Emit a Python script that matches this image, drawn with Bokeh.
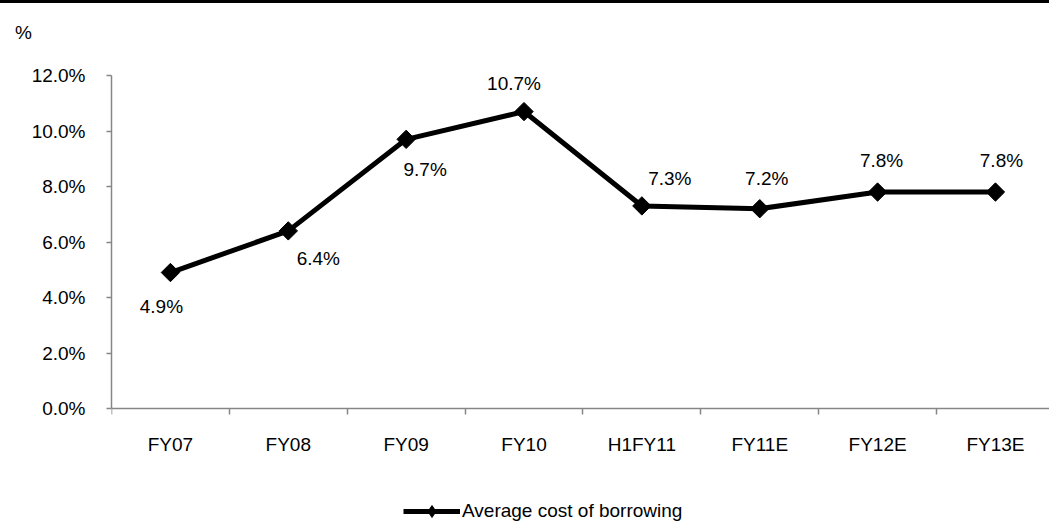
import numpy as np
from bokeh.plotting import figure
from bokeh.models import (Range1d, FixedTicker, ColumnDataSource, LabelSet,
                          Legend, LegendItem, PrintfTickFormatter, Div)
from bokeh.core.properties import value
from bokeh.layouts import column
from bokeh.embed import file_html
from bokeh.resources import INLINE

categories = ["FY07", "FY08", "FY09", "FY10", "H1FY11", "FY11E", "FY12E", "FY13E"]
cost = [4.9, 6.4, 9.7, 10.7, 7.3, 7.2, 7.8, 7.8]
labels = ["4.9%", "6.4%", "9.7%", "10.7%", "7.3%", "7.2%", "7.8%", "7.8%"]
y_ticks = [0, 2, 4, 6, 8, 10, 12]
series_name = "Average cost of borrowing"
unit_label = "%"

# label offsets (pixels) - styling
lab_dx = [-9, 30, 19, -10, 28, 7, 4, 6]
lab_dy = [-34, -28, -30, 28, 27, 30, 32, 32]

FONT = "Liberation Sans"
FS = "19px"
AXIS_GREY = "#868686"
PX_X = 117.86   # pixels per category
PX_Y = 27.75    # pixels per percentage point

xs = [i + 0.5 for i in range(len(categories))]
src = ColumnDataSource(dict(x=xs, y=cost, lab=labels, dx=lab_dx, dy=lab_dy))

TOP_H = 50
BOTTOM = 114
p = figure(width=1049, height=522 - TOP_H, output_backend="svg", toolbar_location=None,
           x_range=Range1d(0, 938 / PX_X), y_range=Range1d(-BOTTOM / PX_Y, 12),
           min_border_left=111, min_border_right=0, min_border_top=75 - TOP_H,
           min_border_bottom=0)
p.outline_line_color = None
p.grid.visible = False
p.background_fill_color = "white"
p.border_fill_color = "white"

# x axis (drawn at y = 0 inside the frame)
xa = p.xaxis[0]
xa.fixed_location = 0
xa.ticker = FixedTicker(ticks=xs, minor_ticks=list(range(len(categories) + 1)))
xa.major_label_overrides = {x: c for x, c in zip(xs, categories)}
xa.major_tick_line_color = None
xa.major_tick_out = 0
xa.major_tick_in = 0
xa.minor_tick_line_color = AXIS_GREY
xa.minor_tick_out = 6
xa.minor_tick_in = 0
xa.minor_tick_line_width = 1.5
xa.axis_line_color = AXIS_GREY
xa.axis_line_width = 1.5
xa.major_label_standoff = 19
xa.major_label_text_font = FONT
xa.major_label_text_font_size = FS
xa.major_label_text_color = "black"

# y axis
ya = p.yaxis[0]
ya.bounds = (0, 12)
ya.ticker = FixedTicker(ticks=y_ticks, minor_ticks=[])
ya.formatter = PrintfTickFormatter(format="%.1f%%")
ya.major_tick_line_color = AXIS_GREY
ya.major_tick_out = 5
ya.major_tick_in = 0
ya.major_tick_line_width = 1.5
ya.minor_tick_line_color = None
ya.axis_line_color = AXIS_GREY
ya.axis_line_width = 1.5
ya.major_label_standoff = 21
ya.major_label_text_font = FONT
ya.major_label_text_font_size = FS
ya.major_label_text_color = "black"

line_r = p.line("x", "y", source=src, line_color="black", line_width=5)
mark_r = p.scatter("x", "y", source=src, marker="square", angle=np.pi / 4, size=13,
                   fill_color="black", line_color="black")
# marker used only for the legend swatch (lies outside the visible range)
leg_mark = p.scatter(x=[-50], y=[-50], marker="diamond", size=13,
                     fill_color="black", line_color="black")

ls = LabelSet(x="x", y="y", text="lab", source=src, x_offset="dx", y_offset="dy",
              text_align="center", text_baseline="middle", text_font=value(FONT),
              text_font_size=value(FS), text_color="black")
p.add_layout(ls)

legend = Legend(items=[LegendItem(label=series_name, renderers=[line_r, leg_mark])],
                location=(292, -4), orientation="horizontal",
                border_line_color=None, background_fill_alpha=0, padding=0, margin=0,
                glyph_width=57, glyph_height=30, label_standoff=2,
                label_text_font=FONT, label_text_font_size=FS, label_text_color="black")
p.add_layout(legend, "center")

top = Div(text=f'<div style="position:relative;width:1049px;height:{TOP_H}px;">'
               f'<div style="position:absolute;left:0;top:0;width:1049px;height:3px;background:black;"></div>'
               f'<span style="position:absolute;left:15px;top:23px;font-family:\'{FONT}\';'
               f'font-size:{FS};color:black;line-height:1;">{unit_label}</span></div>',
          width=1049, height=TOP_H, margin=(0, 0, 0, 0))
layout = column(top, p, spacing=0, margin=(0, 0, 0, 0))

open("out.html", "w").write(file_html(layout, INLINE))
